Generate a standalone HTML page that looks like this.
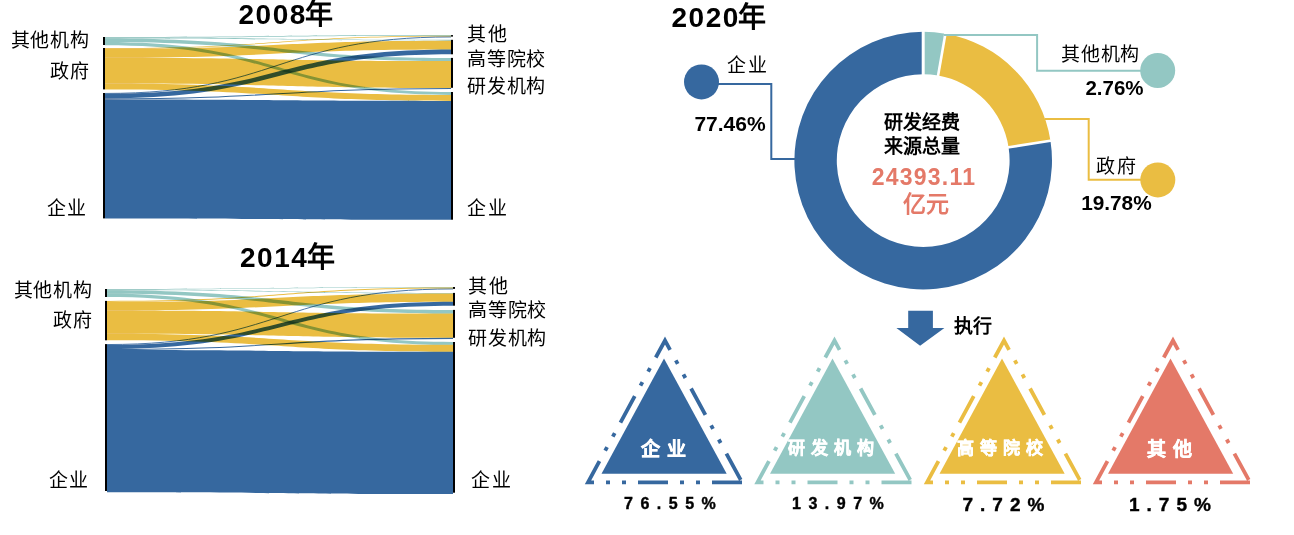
<!DOCTYPE html>
<html lang="zh-CN"><head><meta charset="utf-8"><style>
html,body{margin:0;padding:0;background:#fff;}
body{width:1294px;height:535px;overflow:hidden;position:relative;font-family:"Liberation Sans",sans-serif;}
svg{position:absolute;left:0;top:0;}
.t{font-family:"Liberation Sans",sans-serif;}
</style></head><body>
<svg width="1294" height="535" viewBox="0 0 1294 535">
<rect width="1294" height="535" fill="#fff"/>
<g style="isolation:isolate"><path d="M105,37 C278.0,37 278.0,35.1 451,35.1 L451,35.7 C278.0,35.7 278.0,37.6 105,37.6 Z" fill="#93C7C3" style="mix-blend-mode:multiply"/><path d="M105,37.6 C278.0,37.6 278.0,39.8 451,39.8 L451,40.699999999999996 C278.0,40.699999999999996 278.0,38.6 105,38.6 Z" fill="#93C7C3" style="mix-blend-mode:multiply"/><path d="M105,38.6 C278.0,38.6 278.0,57.9 451,57.9 L451,61.1 C278.0,61.1 278.0,42.0 105,42.0 Z" fill="#93C7C3" style="mix-blend-mode:multiply"/><path d="M105,42.0 C278.0,42.0 278.0,92 451,92 L451,94.9 C278.0,94.9 278.0,45.3 105,45.3 Z" fill="#93C7C3" style="mix-blend-mode:multiply"/><path d="M105,48 C278.0,48 278.0,35.7 451,35.7 L451,36.5 C278.0,36.5 278.0,48.8 105,48.8 Z" fill="#EABD42" style="mix-blend-mode:multiply"/><path d="M105,48.8 C278.0,48.8 278.0,40.699999999999996 451,40.699999999999996 L451,49.599999999999994 C278.0,49.599999999999994 278.0,57.699999999999996 105,57.699999999999996 Z" fill="#EABD42" style="mix-blend-mode:multiply"/><path d="M105,57.699999999999996 C278.0,57.699999999999996 278.0,61.1 451,61.1 L451,88.0 C278.0,88.0 278.0,83.6 105,83.6 Z" fill="#EABD42" style="mix-blend-mode:multiply"/><path d="M105,83.6 C278.0,83.6 278.0,94.9 451,94.9 L451,100.9 C278.0,100.9 278.0,89.39999999999999 105,89.39999999999999 Z" fill="#EABD42" style="mix-blend-mode:multiply"/><path d="M105,93.45 C278.0,93.45 278.0,36.95 451,36.95" fill="none" stroke="#36689F" stroke-width="0.9000000000000021" style="mix-blend-mode:multiply"/><path d="M105,93.9 C278.0,93.9 278.0,49.599999999999994 451,49.599999999999994 L451,54.199999999999996 C278.0,54.199999999999996 278.0,98.4 105,98.4 Z" fill="#36689F" style="mix-blend-mode:multiply"/><path d="M105,98.95 C278.0,98.95 278.0,88.55 451,88.55" fill="none" stroke="#36689F" stroke-width="1.0999999999999943" style="mix-blend-mode:multiply"/><path d="M105,99.5 C278.0,99.5 278.0,100.9 451,100.9 L451,219.8 C278.0,219.8 278.0,218.5 105,218.5 Z" fill="#36689F" style="mix-blend-mode:multiply"/></g>
<rect x="103" y="37" width="2" height="8" fill="#000"/>
<rect x="103" y="48" width="2" height="41.400000000000006" fill="#000"/>
<rect x="103" y="93" width="2" height="125.4" fill="#000"/>
<rect x="451" y="35.1" width="2" height="1.5" fill="#000"/>
<rect x="451" y="39.8" width="2" height="14.5" fill="#000"/>
<rect x="451" y="57.9" width="2" height="29.9" fill="#000"/>
<rect x="451" y="92" width="2" height="127.69999999999999" fill="#000"/>
<g style="isolation:isolate"><path d="M107,289 C280.0,289 280.0,287 453,287 L453,287.5 C280.0,287.5 280.0,289.5 107,289.5 Z" fill="#93C7C3" style="mix-blend-mode:multiply"/><path d="M107,289.5 C280.0,289.5 280.0,292.9 453,292.9 L453,293.59999999999997 C280.0,293.59999999999997 280.0,290.2 107,290.2 Z" fill="#93C7C3" style="mix-blend-mode:multiply"/><path d="M107,290.2 C280.0,290.2 280.0,309.9 453,309.9 L453,313.59999999999997 C280.0,313.59999999999997 280.0,293.8 107,293.8 Z" fill="#93C7C3" style="mix-blend-mode:multiply"/><path d="M107,293.8 C280.0,293.8 280.0,342 453,342 L453,344.8 C280.0,344.8 280.0,297.0 107,297.0 Z" fill="#93C7C3" style="mix-blend-mode:multiply"/><path d="M107,300.9 C280.0,300.9 280.0,287.5 453,287.5 L453,288.5 C280.0,288.5 280.0,301.9 107,301.9 Z" fill="#EABD42" style="mix-blend-mode:multiply"/><path d="M107,301.9 C280.0,301.9 280.0,293.59999999999997 453,293.59999999999997 L453,301.7 C280.0,301.7 280.0,310.59999999999997 107,310.59999999999997 Z" fill="#EABD42" style="mix-blend-mode:multiply"/><path d="M107,310.59999999999997 C280.0,310.59999999999997 280.0,313.59999999999997 453,313.59999999999997 L453,337.79999999999995 C280.0,337.79999999999995 280.0,333.79999999999995 107,333.79999999999995 Z" fill="#EABD42" style="mix-blend-mode:multiply"/><path d="M107,333.79999999999995 C280.0,333.79999999999995 280.0,344.8 453,344.8 L453,351.8 C280.0,351.8 280.0,340.29999999999995 107,340.29999999999995 Z" fill="#EABD42" style="mix-blend-mode:multiply"/><path d="M107,344.55 C280.0,344.55 280.0,288.95 453,288.95" fill="none" stroke="#36689F" stroke-width="0.8999999999999773" style="mix-blend-mode:multiply"/><path d="M107,345.0 C280.0,345.0 280.0,301.7 453,301.7 L453,305.7 C280.0,305.7 280.0,349.0 107,349.0 Z" fill="#36689F" style="mix-blend-mode:multiply"/><path d="M107,349.55 C280.0,349.55 280.0,338.34999999999997 453,338.34999999999997" fill="none" stroke="#36689F" stroke-width="1.1000000000000227" style="mix-blend-mode:multiply"/><path d="M107,350.1 C280.0,350.1 280.0,351.8 453,351.8 L453,494.0 C280.0,494.0 280.0,492.3 107,492.3 Z" fill="#36689F" style="mix-blend-mode:multiply"/></g>
<rect x="105" y="289" width="2" height="8" fill="#000"/>
<rect x="105" y="300.9" width="2" height="39.400000000000034" fill="#000"/>
<rect x="105" y="344.1" width="2" height="146.89999999999998" fill="#000"/>
<rect x="453" y="287" width="2" height="1.8999999999999773" fill="#000"/>
<rect x="453" y="292.9" width="2" height="12.800000000000011" fill="#000"/>
<rect x="453" y="309.9" width="2" height="27.900000000000034" fill="#000"/>
<rect x="453" y="342" width="2" height="150.7" fill="#000"/>
<path d="M923.20,31.80 A128.8,128.8 0 0 1 945.42,33.73 L938.11,75.50 A86.4,86.4 0 0 0 923.20,74.20 Z" fill="#93C7C3"/><path d="M945.42,33.73 A128.8,128.8 0 0 1 1050.46,140.77 L1008.57,147.30 A86.4,86.4 0 0 0 938.11,75.50 Z" fill="#EABD42"/><path d="M1050.46,140.77 A128.8,128.8 0 1 1 923.20,31.80 L923.20,74.20 A86.4,86.4 0 1 0 1008.57,147.30 Z" fill="#36689F"/><line x1="923.20" y1="77.20" x2="923.20" y2="28.80" stroke="#fff" stroke-width="3"/><line x1="937.59" y1="78.45" x2="945.94" y2="30.78" stroke="#fff" stroke-width="2.6"/><line x1="1005.61" y1="147.76" x2="1053.43" y2="140.31" stroke="#fff" stroke-width="2.6"/>
<g fill="none" stroke-width="2">
<polyline points="944,34.9 1037.1,34.9 1037.1,70.7 1141,70.7" stroke="#93C7C3"/>
<polyline points="1045,119 1088.7,119 1088.7,179.7 1141,179.7" stroke="#EABD42"/>
<polyline points="718,84 771.3,84 771.3,159.1 795,159.1" stroke="#36689F"/>
</g>
<circle cx="1157.7" cy="70.5" r="17.5" fill="#93C7C3"/>
<circle cx="1157.8" cy="179.9" r="17.5" fill="#EABD42"/>
<circle cx="701.5" cy="81.9" r="17.5" fill="#36689F"/>
<path d="M908.2,310.8 L932.9,310.8 L932.9,328 L944.4,328 L920.1,345.8 L896.4,328 L908.2,328 Z" fill="#36689F"/>
<path d="M742,482.3 L588,482.3 L665,340.5 Z" fill="none" stroke="#36689F" stroke-width="3.8" stroke-dasharray="30 12 4 12 4 12" stroke-linejoin="miter"/><path d="M664,358.6 L601.5,473.7 L726.7,473.7 Z" fill="#36689F"/><path d="M911.5,482.3 L757.5,482.3 L834.5,340.5 Z" fill="none" stroke="#93C7C3" stroke-width="3.8" stroke-dasharray="30 12 4 12 4 12" stroke-linejoin="miter"/><path d="M832.5,358.6 L770.0,473.7 L895.2,473.7 Z" fill="#93C7C3"/><path d="M1081,482.3 L927,482.3 L1004,340.5 Z" fill="none" stroke="#EABD42" stroke-width="3.8" stroke-dasharray="30 12 4 12 4 12" stroke-linejoin="miter"/><path d="M1002,358.6 L939.5,473.7 L1064.7,473.7 Z" fill="#EABD42"/><path d="M1250,482.3 L1096,482.3 L1173,340.5 Z" fill="none" stroke="#E47968" stroke-width="3.8" stroke-dasharray="30 12 4 12 4 12" stroke-linejoin="miter"/><path d="M1170.5,358.6 L1108.0,473.7 L1233.2,473.7 Z" fill="#E47968"/>
<g class="t" font-size="19">
<text letter-spacing="0.8" x="89.8" y="47" text-anchor="end">其他机构</text>
<text letter-spacing="1.5" x="90.5" y="77.5" text-anchor="end">政府</text>
<text letter-spacing="1.5" x="87.5" y="214.5" text-anchor="end">企业</text>
<text letter-spacing="1.5" x="467" y="41">其他</text>
<text letter-spacing="0.8" x="467" y="65.5">高等院校</text>
<text letter-spacing="0.8" x="467" y="93">研发机构</text>
<text letter-spacing="1.5" x="467" y="214.5">企业</text>
<text letter-spacing="0.8" x="92.8" y="297" text-anchor="end">其他机构</text>
<text letter-spacing="1.5" x="93.5" y="327" text-anchor="end">政府</text>
<text letter-spacing="1.5" x="89.5" y="486.5" text-anchor="end">企业</text>
<text letter-spacing="1.5" x="468" y="292.5">其他</text>
<text letter-spacing="0.8" x="468" y="317">高等院校</text>
<text letter-spacing="0.8" x="468" y="345">研发机构</text>
<text letter-spacing="1.5" x="471" y="487">企业</text>
<text letter-spacing="1.5" x="727" y="72">企业</text>
<text letter-spacing="0.8" x="1061" y="61">其他机构</text>
<text letter-spacing="1.5" x="1096" y="173">政府</text>
</g>
<g class="t" font-size="28" font-weight="bold">
<text x="238.5" y="24"><tspan letter-spacing="1.5">2008</tspan><tspan dx="-1.5">年</tspan></text>
<text x="240" y="267"><tspan letter-spacing="1.5">2014</tspan><tspan dx="-1.5">年</tspan></text>
<text x="671.5" y="27"><tspan letter-spacing="1.5">2020</tspan><tspan dx="-1.5">年</tspan></text>
</g>
<g class="t" font-size="19" font-weight="bold">
<text x="730" y="131" text-anchor="middle" font-size="21">77.46%</text>
<text x="1114.5" y="95.3" text-anchor="middle" font-size="20.5">2.76%</text>
<text x="1116.4" y="210" text-anchor="middle" font-size="20.8">19.78%</text>
<text x="921.6" y="129" text-anchor="middle">研发经费</text>
<text x="921.6" y="153" text-anchor="middle">来源总量</text>
<text x="954" y="332.5" >执行</text>
</g>
<g class="t" font-weight="bold" fill="#fff" stroke="#fff" stroke-width="0.5">
<text x="641" y="456" font-size="19" letter-spacing="7">企业</text>
<text x="788" y="453.5" font-size="17" letter-spacing="6">研发机构</text>
<text x="957" y="453.5" font-size="17" letter-spacing="6">高等院校</text>
<text x="1147" y="456" font-size="19" letter-spacing="7">其他</text>
</g>
<g class="t" font-weight="bold" fill="#000" stroke="#000" stroke-width="0.4">
<text x="624" y="509" font-size="16" letter-spacing="7.5">76.55%</text>
<text x="792" y="509" font-size="16" letter-spacing="7.5">13.97%</text>
<text x="962.5" y="511" font-size="19" letter-spacing="7">7.72%</text>
<text x="1129" y="511" font-size="19" letter-spacing="7">1.75%</text>
</g>
<g class="t" font-weight="bold" fill="#E47968" text-anchor="middle">
<text x="924" y="185" font-size="23" letter-spacing="1.25">24393.11</text>
<text x="925.5" y="212" font-size="23">亿元</text>
</g>
</svg>
</body></html>
